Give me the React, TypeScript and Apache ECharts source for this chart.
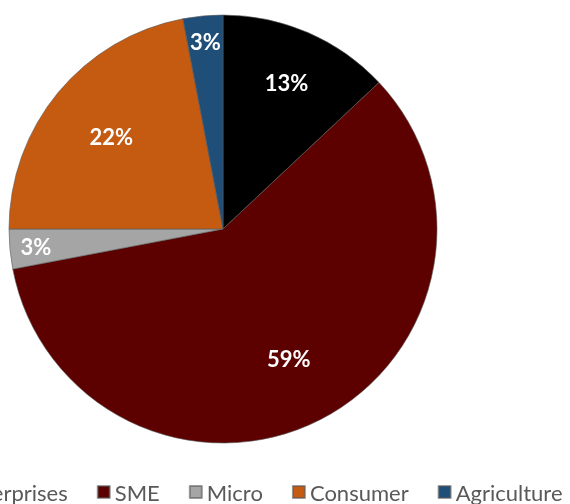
import React, { useEffect, useRef } from "react";
import * as echarts from "echarts";

const categories = ["Large Enterprises", "SME", "Micro", "Consumer", "Agriculture"];
const values = [13, 59, 3, 22, 3];
const colors = ["#000000", "#5c0000", "#a5a5a5", "#c55a11", "#1f4e79"];

const CX = 223;
const CY = 229;
const R = 214;

// label ring groups (which items' labels each invisible ring shows)
const labelRings: { inner: number; items: string[] }[] = [
  { inner: 70, items: ["SME", "Consumer"] },
  { inner: 100, items: ["Large Enterprises"] },
  { inner: 156, items: ["Micro", "Agriculture"] },
];

export default function App() {
  const ref = useRef<HTMLDivElement>(null);
  useEffect(() => {
    if (!ref.current) return;
    const chart = echarts.init(ref.current, undefined, { renderer: "svg" });
    const data = categories.map((name, i) => ({
      name,
      value: values[i],
      itemStyle: { color: colors[i] },
    }));
    const total = values.reduce((a, b) => a + b, 0);
    const labelSeries = labelRings.map((ring) => ({
      type: "pie" as const,
      center: [CX, CY],
      radius: [ring.inner, R],
      startAngle: 90,
      clockwise: true,
      silent: true,
      legendHoverLink: false,
      avoidLabelOverlap: false,
      itemStyle: { color: "rgba(0,0,0,0)", borderWidth: 0 },
      labelLine: { show: false },
      data: categories.map((name, i) => ({
        name,
        value: values[i],
        itemStyle: { color: "rgba(0,0,0,0)" },
        label: {
          show: ring.items.includes(name),
          position: "inside",
          formatter: () => `${Math.round((values[i] / total) * 100)}%`,
          color: "#ffffff",
          fontFamily: "Lato",
          fontWeight: "bold",
          fontSize: 22,
        },
      })),
    }));
    chart.setOption({
      animation: false,
      color: colors,
      legend: {
        data: categories,
        left: -122,
        top: 476,
        icon: "rect",
        itemWidth: 12,
        itemHeight: 12,
        itemGap: 29,
        textStyle: { color: "#595959", fontFamily: "Lato", fontSize: 22 },
      },
      series: [
        {
          type: "pie",
          center: [CX, CY],
          radius: R,
          startAngle: 90,
          clockwise: true,
          avoidLabelOverlap: false,
          itemStyle: { borderColor: "rgba(90,90,90,0.6)", borderWidth: 1 },
          label: { show: false },
          labelLine: { show: false },
          data,
        },
        ...labelSeries,
      ],
    });
    return () => chart.dispose();
  }, []);
  return (
    <div
      ref={ref}
      style={{ position: "fixed", left: 0, top: 0, width: 570, height: 504 }}
    />
  );
}
